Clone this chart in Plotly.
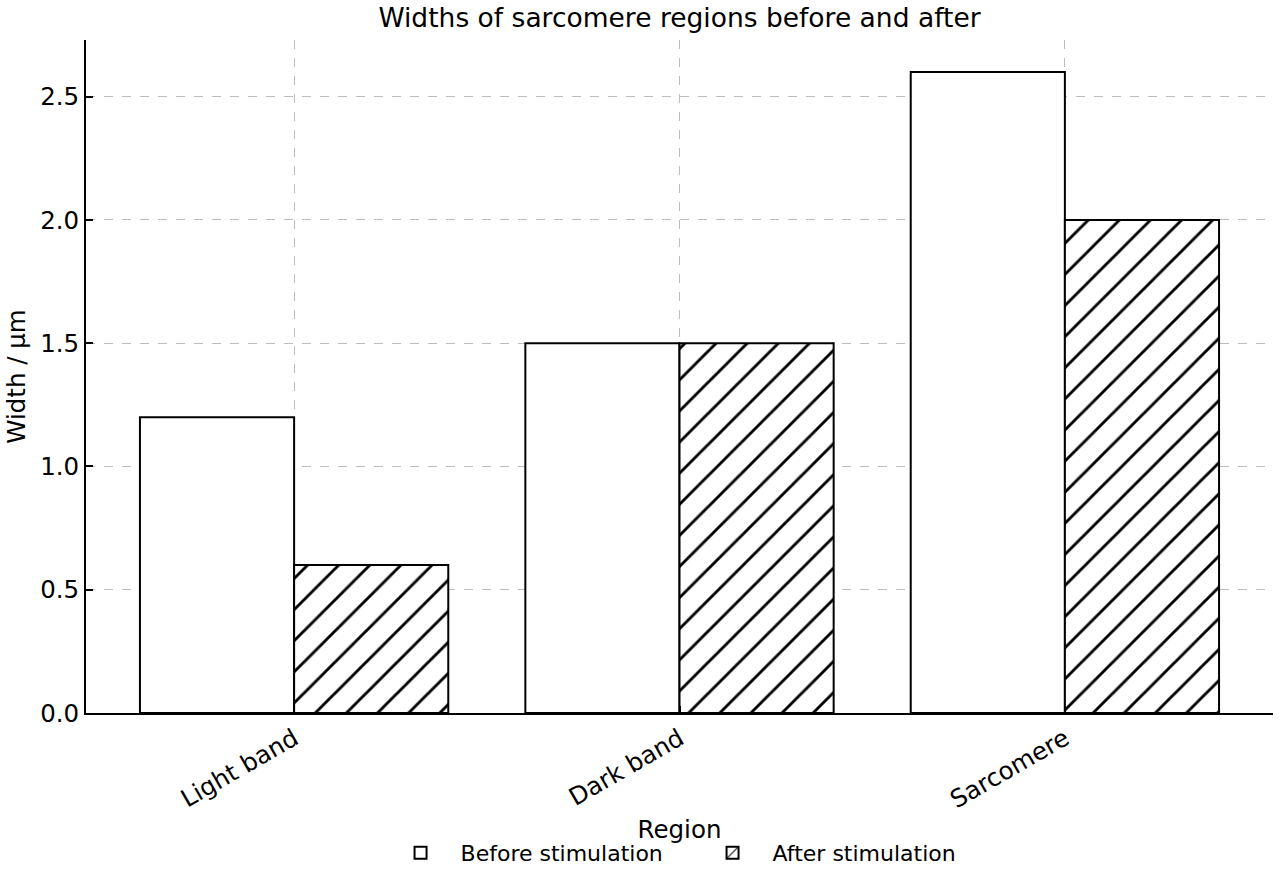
import plotly.graph_objects as go

categories = ["Light band", "Dark band", "Sarcomere"]
before_values = [1.2, 1.5, 2.6]
after_values = [0.6, 1.5, 2.0]
series_names = ["Before stimulation", "After stimulation"]
y_tick_values = [0.0, 0.5, 1.0, 1.5, 2.0, 2.5]

FONT = "DejaVu Sans"

fig = go.Figure()
fig.add_trace(go.Bar(
    x=categories, y=before_values, name=series_names[0],
    marker=dict(color="white", line=dict(color="black", width=2)),
))
fig.add_trace(go.Bar(
    x=categories, y=after_values, name=series_names[1],
    marker=dict(color="white", line=dict(color="black", width=2),
                pattern=dict(shape="/", size=22, solidity=0.13,
                             fgcolor="black", fgopacity=1, bgcolor="white",
                             fillmode="overlay")),
))

fig.update_layout(
    width=1280, height=880,
    margin=dict(l=86, r=7, t=40, b=166),
    paper_bgcolor="white", plot_bgcolor="white",
    font=dict(family=FONT, size=24, color="black"),
    barmode="group", bargap=0.2, bargroupgap=0,
    title=dict(text="Widths of sarcomere regions before and after",
               x=0.5, xref="paper", xanchor="center",
               y=1 - 18 / 880, yref="container", yanchor="middle",
               font=dict(size=26.5)),
    legend=dict(orientation="h", x=0.511, xanchor="center", y=-0.206, yanchor="middle",
                font=dict(size=22), bgcolor="rgba(0,0,0,0)",
                itemwidth=70, entrywidth=227),
    showlegend=True,
)

fig.update_xaxes(
    type="category", range=[-0.54, 2.54],
    showline=True, linecolor="black", linewidth=2, mirror=False,
    ticks="inside", ticklen=7, tickwidth=2, tickcolor="black",
    tickangle=-30, tickfont=dict(size=24.5),
    showgrid=True, gridcolor="#bdbdbd", gridwidth=1, griddash="dash",
    title=dict(text="Region", font=dict(size=24.5), standoff=8),
    zeroline=False,
)
fig.update_yaxes(
    range=[0, 2.73],
    tickvals=y_tick_values, tickformat=".1f",
    showline=True, linecolor="black", linewidth=2, mirror=False,
    ticks="inside", ticklen=7, tickwidth=2, tickcolor="black",
    tickfont=dict(size=24.5),
    showgrid=True, gridcolor="#bdbdbd", gridwidth=1, griddash="dash",
    title=dict(text="Width / µm", font=dict(size=24.5), standoff=8),
    zeroline=False,
)

fig.write_html("out.html")
